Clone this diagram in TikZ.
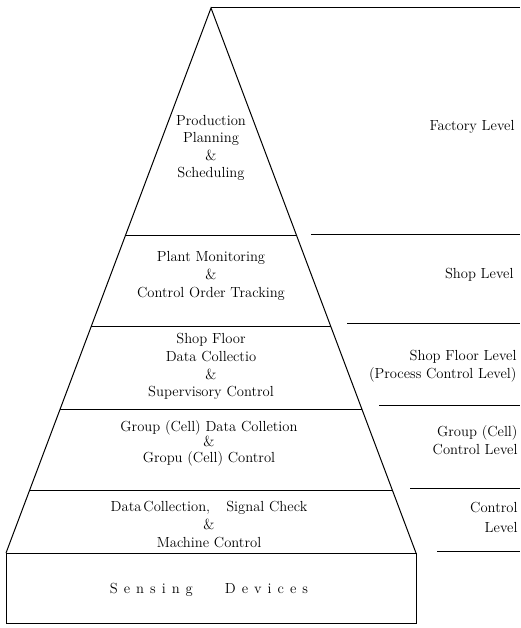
\documentclass[tikz,border=0pt]{standalone}
\usetikzlibrary{calc}
\begin{document}
\begin{tikzpicture}[x=1pt,y=-1pt,line width=1pt,
  txt/.style={font=\fontsize{14.6}{17.5}\selectfont,align=center,inner sep=0pt},
  side/.style={txt,align=right,anchor=east},
  rule/.style={line width=1pt}]
\useasboundingbox (0,0) rectangle (520,628);

% pyramid outline and base box
\coordinate (apex) at (211,8);
\coordinate (bl) at (6,553);
\coordinate (br) at (416,553);
\draw[rule] (bl) -- (apex) -- (br);
\draw[rule] (bl) rectangle (416,623);

% level dividers inside the pyramid
\foreach \t in {0.4183,0.5853,0.7358,0.8844}
  \draw[rule] ($(apex)!\t!(bl)$) -- ($(apex)!\t!(br)$);

% level dividers on the right
\draw[rule] (apex) -- (520,8);
\draw[rule] (311,234) -- (520,234);
\draw[rule] (347,323) -- (520,323);
\draw[rule] (379,405) -- (520,405);
\draw[rule] (410,488) -- (520,488);
\draw[rule] (437,551) -- (520,551);

% functions at each level
\node[txt] (pps) at (211,148) {Production\\Planning\\\&\\Scheduling};
\node[txt,font=\fontsize{14.6}{18}\selectfont] (pm) at (211,276) {Plant Monitoring\\\&\\Control Order Tracking};
\node[txt,font=\fontsize{14.6}{17.7}\selectfont] (sf) at (211,366.5) {Shop Floor\\Data Collectio\\\&\\Supervisory Control};
\node[txt,font=\fontsize{14.6}{15.5}\selectfont] (gc) at (209,443) {Group (Cell) Data Colletion\\\&\\Gropu (Cell) Control};
\node[txt,font=\fontsize{14.6}{18}\selectfont] (mc) at (209,525) {Data\kern2pt Collection,\hspace{1.1em}Signal Check\\\&\\Machine Control};
\node[txt] (sd) at (209,590) {S\kern6pt e\kern6pt n\kern6pt s\kern6pt i\kern6pt n\kern6pt g\hspace{32pt}D\kern6pt e\kern6pt v\kern6pt i\kern6pt c\kern6pt e\kern6pt s};

% level names
\node[side] (fl) at (515,127) {Factory Level};
\node[side] (sl) at (514,275) {Shop Level};
\node[side] (sfl) at (517,366) {Shop Floor Level\\(Process Control Level)};
\node[side,font=\fontsize{14.6}{18}\selectfont] (gl) at (518,440) {Group (Cell)\\Control Level};
\node[side,font=\fontsize{14.6}{20}\selectfont] (cl) at (518,517) {Control\\Level};
\end{tikzpicture}
\end{document}
